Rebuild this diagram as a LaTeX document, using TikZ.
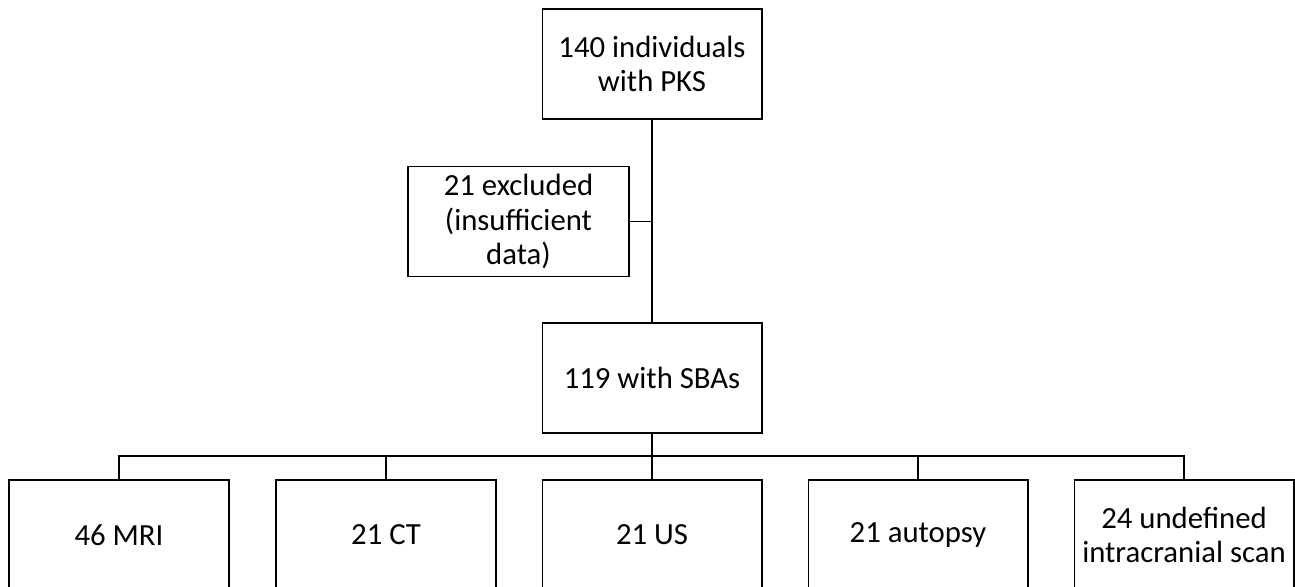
\documentclass[tikz,border=0pt]{standalone}
\usepackage{fontspec}
\setmainfont{Carlito}
\usepackage{tikz}

\begin{document}
\begin{tikzpicture}[x=0.02cm,y=-0.02cm,line width=0.6pt,
  box/.style={draw,minimum width=4.4cm,minimum height=2.2cm,inner sep=0pt,
    align=center,font=\fontsize{17.5}{19.5}\selectfont}]

\useasboundingbox (0,0) rectangle (1295,587);
\clip (0,0) rectangle (1295,587);

\node[box] (pks) at (652,64) {140 individuals\\with PKS};

\node[box,minimum width=4.42cm] (excl) at (518.5,221.5) {21 excluded\\(insufficient\\data)};

\node[box] (sba) at (652,378) {119 with SBAs};

\node[box] (mri) at (119,535) {46 MRI};

\node[box] (ct) at (386,535) {21 CT};

\node[box] (us) at (652,535) {21 US};

\node[box] (aut) at (918,535) {21 autopsy};

\node[box] (scan) at (1184,535) {24 undefined\\intracranial scan};

\coordinate (bus) at (652,456);


\draw (pks) -- (sba);
\draw (excl.east) -- (excl.east -| pks);
\draw (sba) -- (bus);
\draw (mri.north) |- (bus) -| (scan.north);
\draw (ct.north) -- (ct.north |- bus);
\draw (us.north) -- (bus);
\draw (aut.north) -- (aut.north |- bus);


\end{tikzpicture}
\end{document}
